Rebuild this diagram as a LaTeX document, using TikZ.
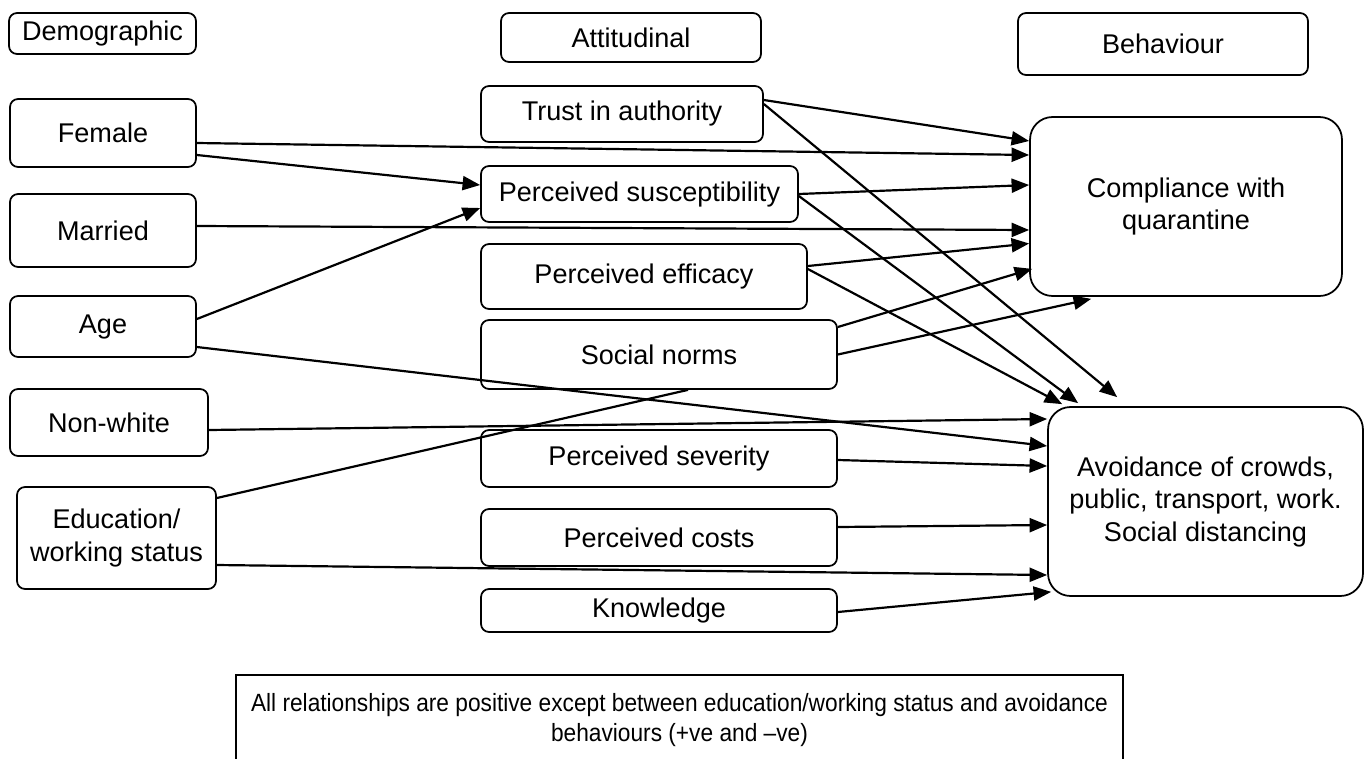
\documentclass[tikz,border=0pt]{standalone}
\usepackage{fontspec}
\setmainfont{Liberation Sans}
\newfontfamily\notefont[FakeStretch=0.91,Ligatures=TeX]{Liberation Sans}
\usetikzlibrary{arrows.meta,calc}
\begin{document}
\begin{tikzpicture}[x=0.02cm,y=-0.02cm,
  box/.style={draw,line width=1pt,rounded corners=0.16cm,align=center,inner sep=0pt,font=\fontsize{15.4}{18.5}\selectfont},
  big/.style={box,rounded corners=0.45cm},
  notebox/.style={draw,line width=1pt,align=center,inner sep=0pt,font=\notefont\fontsize{14.2}{17}\selectfont},
  arr/.style={line width=1.25pt,-{Triangle[length=10pt,width=8pt]}},
  ln/.style={line width=1.25pt}]
\useasboundingbox (0,0) rectangle (1366,758);
% headers
\node[box,minimum width=3.74cm,minimum height=0.82cm] (demo) at (102.5,33.5) {Demographic};
\node[box,minimum width=5.2cm,minimum height=0.98cm] (atti) at (631,37.5) {Attitudinal};
\node[box,minimum width=5.8cm,minimum height=1.24cm] (beh) at (1163,44) {Behaviour};
% demographic
\node[box,minimum width=3.72cm,minimum height=1.36cm] (female) at (103,133) {Female};
\node[box,minimum width=3.72cm,minimum height=1.46cm] (married) at (103,230.5) {Married};
\node[box,minimum width=3.72cm,minimum height=1.22cm] (age) at (103,326.5) {Age};
\node[box,minimum width=3.96cm,minimum height=1.34cm] (nonwhite) at (109,422.5) {Non-white};
\node[box,minimum width=3.98cm,minimum height=2.04cm] (edu) at (116.5,538) {Education/\\working status};
% attitudinal
\node[box,minimum width=5.64cm,minimum height=1.12cm] (trust) at (622,114) {Trust in authority};
\node[box,minimum width=6.34cm,minimum height=1.12cm] (susc) at (639.5,194) {Perceived susceptibility};
\node[box,minimum width=6.52cm,minimum height=1.30cm] (effic) at (644,276.5) {Perceived efficacy};
\node[box,minimum width=7.12cm,minimum height=1.38cm] (norms) at (659,354.5) {Social norms};
\node[box,minimum width=7.12cm,minimum height=1.14cm] (sever) at (659,458.5) {Perceived severity};
\node[box,minimum width=7.12cm,minimum height=1.14cm] (costs) at (659,537.5) {Perceived costs};
\node[box,minimum width=7.12cm,minimum height=0.86cm] (know) at (659,610.5) {Knowledge};
% behaviour
\node[big,minimum width=6.24cm,minimum height=3.58cm] (comp) at (1186,206.5) {Compliance with\\quarantine};
\node[big,minimum width=6.30cm,minimum height=3.78cm] (avoid) at (1205.5,501.5) {Avoidance of crowds,\\public, transport, work.\\Social distancing};
% note
\node[notebox,minimum width=17.74cm,minimum height=1.8cm] (note) at (679.5,720) {All relationships are positive except between education/working status and avoidance\\behaviours (+ve and –ve)};
% connectors
\draw[arr] ($(trust.east)+(0,-14)$) -- ($(comp.west)+(0,-65.5)$);
\draw[arr] ($(trust.east)+(0,-10)$) -- ($(avoid.north west)+(70,-9)$);
\draw[arr] ($(female.east)+(0,10)$) -- ($(comp.west)+(0,-51.5)$);
\draw[arr] ($(female.east)+(0,22)$) -- ($(susc.west)+(0,-9)$);
\draw[arr] ($(married.east)+(0,-4.5)$) -- ($(comp.west)+(0,23.5)$);
\draw[arr] ($(age.east)+(0,-7.5)$) -- ($(susc.west)+(0,14)$);
\draw[arr] ($(age.east)+(0,20.5)$) -- ($(avoid.west)+(0,-55.5)$);
\draw[arr] ($(nonwhite.east)+(0,7.5)$) -- ($(avoid.west)+(0,-82.5)$);
\draw[ln] ($(edu.east)+(0,-40)$) -- ($(norms.south)+(29,0)$);
\draw[arr] ($(edu.east)+(0,27)$) -- ($(avoid.west)+(0,73.5)$);
\draw[arr] (susc.east) -- ($(comp.west)+(0,-21.5)$);
\draw[arr] ($(susc.east)+(0,2)$) -- ($(avoid.north west)+(31,-3)$);
\draw[arr] ($(effic.east)+(0,-10.5)$) -- ($(comp.west)+(0,37)$);
\draw[arr] ($(effic.east)+(0,-7.5)$) -- ($(avoid.north west)+(15,-2)$);
\draw[arr] ($(norms.east)+(0,-27.5)$) -- ($(comp.south west)+(3,-28)$);
\draw[arr] (norms.east) -- ($(comp.south west)+(62,2)$);
\draw[arr] ($(sever.east)+(0,1.5)$) -- ($(avoid.west)+(0,-35.5)$);
\draw[arr] ($(costs.east)+(0,-10.5)$) -- ($(avoid.west)+(0,23.5)$);
\draw[arr] ($(know.east)+(0,1.5)$) -- ($(avoid.south west)+(4,-5)$);
\end{tikzpicture}
\end{document}
